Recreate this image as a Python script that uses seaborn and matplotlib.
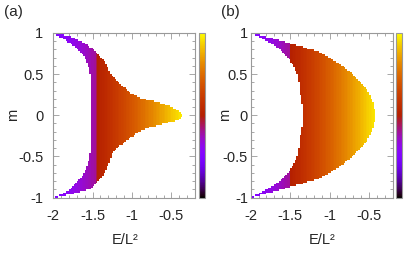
"""
两个面板: 能量-磁量子数 (E/L^2, m) 区域的填色图, gnuplot 调色板
"""

import matplotlib
matplotlib.use('Agg')
import matplotlib.pyplot as plt
from matplotlib.ticker import MultipleLocator
import seaborn as sns
import numpy as np

# 面板 (a) 边界: m 从 -1 到 1, 左/右边界的 E/L^2
M_A = [-1.0, -0.95, -0.9, -0.75, -0.6, -0.47, -0.35, -0.23, -0.15, -0.09, -0.05, 0.0,
       0.03, 0.073, 0.134, 0.175, 0.215, 0.256, 0.38, 0.5, 0.62, 0.7, 0.8, 0.9, 0.95, 1.0]
RIGHT_A = [-2.0, -1.73, -1.54, -1.37, -1.30, -1.25, -1.13, -0.96, -0.79, -0.54, -0.40, -0.35,
           -0.37, -0.44, -0.58, -0.75, -0.92, -1.0, -1.15, -1.27, -1.33, -1.38, -1.48, -1.65, -1.77, -2.0]
LEFT_A = [-2.0, -1.88, -1.78, -1.63, -1.56, -1.53, -1.52, -1.52, -1.51, -1.51, -1.51, -1.51,
          -1.51, -1.51, -1.51, -1.51, -1.52, -1.52, -1.52, -1.53, -1.56, -1.60, -1.68, -1.83, -1.92, -2.0]

# 面板 (b) 边界 (按 |m| 读取, 上下对称)
M_B = [0.0, 0.15, 0.25, 0.35, 0.5, 0.6, 0.7, 0.78, 0.85, 0.9, 0.95, 1.0]
RIGHT_B = [-0.42, -0.44, -0.49, -0.55, -0.70, -0.84, -1.0, -1.16, -1.42, -1.60, -1.80, -2.0]
LEFT_B = [-1.34, -1.35, -1.37, -1.38, -1.41, -1.46, -1.53, -1.60, -1.70, -1.80, -1.90, -2.0]

# 颜色值随 E/L^2 变化 (0-1 对应色条)
E_STOPS_A = [-2.0, -1.455, -1.445, -0.35]
C_STOPS_A = [0.24, 0.40, 0.50, 0.98]
E_STOPS_B = [-2.0, -1.505, -1.495, -0.42]
C_STOPS_B = [0.24, 0.40, 0.50, 0.97]

X_TICKS = [-2, -1.5, -1, -0.5]
X_TICK_LABELS = ['-2', '-1.5', '-1', '-0.5']
Y_TICKS = [-1, -0.5, 0, 0.5, 1]
Y_TICK_LABELS = ['-1', '-0.5', '0', '0.5', '1']

sns.set_style('ticks')
plt.rcParams['font.family'] = ['Liberation Sans', 'DejaVu Sans']
plt.rcParams['font.size'] = 10

FRAME = '#999999'


def build_field(m_pts, right, left, e_stops, c_stops, symmetric):
    e_edges = np.arange(-2.0, -0.2 + 1e-9, 0.02)
    m_edges = np.arange(-1.0, 1.0 + 1e-9, 0.02)
    e_c = 0.5 * (e_edges[1:] + e_edges[:-1])
    m_c = 0.5 * (m_edges[1:] + m_edges[:-1])
    E, M = np.meshgrid(e_c, m_c)
    mm = np.abs(M) if symmetric else M
    r = np.interp(mm, m_pts, right)
    l = np.interp(mm, m_pts, left)
    vals = np.interp(E, e_stops, c_stops)
    vals = np.where((E >= l) & (E <= r), vals, np.nan)
    return e_edges, m_edges, np.ma.masked_invalid(vals)


def draw_panel(fig, rect, cbar_rect, field, label, label_xy, ypad, ylabel_x):
    ax = fig.add_axes(rect)
    e_edges, m_edges, vals = field
    mesh = ax.pcolormesh(e_edges, m_edges, vals, cmap='gnuplot', vmin=0, vmax=1,
                         shading='flat', rasterized=True)
    ax.set_xlim(-2, -0.2)
    ax.set_ylim(-1, 1)
    ax.set_xticks(X_TICKS)
    ax.set_xticklabels(X_TICK_LABELS)
    ax.set_yticks(Y_TICKS)
    ax.set_yticklabels(Y_TICK_LABELS)
    ax.xaxis.set_minor_locator(MultipleLocator(0.1))
    ax.yaxis.set_minor_locator(MultipleLocator(0.1))
    ax.tick_params(which='both', direction='in', top=True, right=True, color=FRAME,
                   labelsize=10.5)
    ax.tick_params(axis='x', which='major', pad=8)
    ax.tick_params(axis='y', which='major', pad=ypad)
    ax.tick_params(which='major', length=4, width=0.6)
    ax.tick_params(which='minor', length=2, width=0.6)
    for sp in ax.spines.values():
        sp.set_color(FRAME)
        sp.set_linewidth(0.8)
    ax.set_xlabel('E/L²', fontsize=10.5, va='center')
    ax.xaxis.set_label_coords(0.505, -0.257)
    ax.set_ylabel('m', fontsize=10.5, va='center')
    ax.yaxis.set_label_coords(ylabel_x, 0.5)

    cax = fig.add_axes(cbar_rect)
    cb = fig.colorbar(mesh, cax=cax)
    cb.set_ticks([])
    cb.outline.set_edgecolor(FRAME)
    cb.outline.set_linewidth(0.8)

    fig.text(label_xy[0], label_xy[1], label, fontsize=11, ha='left', va='center')
    return ax


fig = plt.figure(figsize=(4.09, 2.76), dpi=100)

field_a = build_field(M_A, RIGHT_A, LEFT_A, E_STOPS_A, C_STOPS_A, symmetric=False)
field_b = build_field(M_B, RIGHT_B, LEFT_B, E_STOPS_B, C_STOPS_B, symmetric=True)

draw_panel(fig, [0.130, 0.284, 0.347, 0.597], [0.4866, 0.284, 0.0147, 0.597],
           field_a, '(a)', (0.010, 0.955), ypad=7, ylabel_x=-0.284)
draw_panel(fig, [0.613, 0.284, 0.347, 0.597], [0.968, 0.284, 0.016, 0.597],
           field_b, '(b)', (0.540, 0.958), ypad=2, ylabel_x=-0.181)

fig.savefig('out.png', dpi=100)
